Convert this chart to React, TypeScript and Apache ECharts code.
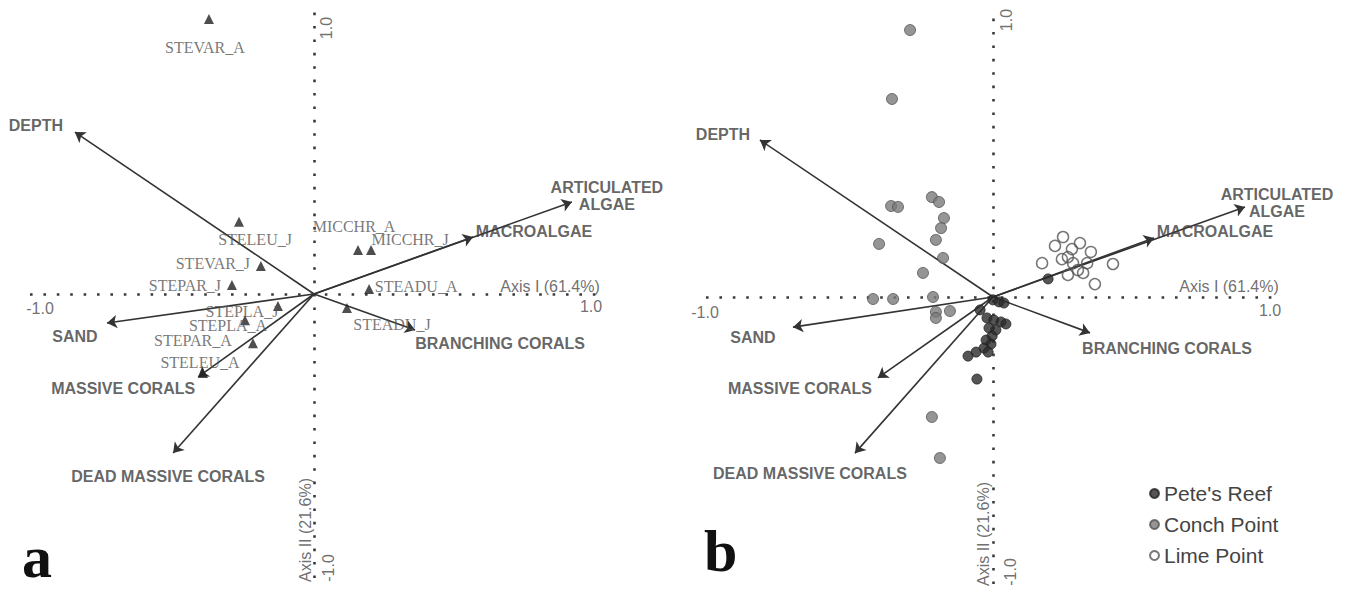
import React, { useEffect, useRef } from "react";
import * as echarts from "echarts";

// ---------- data ----------
const axisRange = [-1, 1];
const tickLabelMin = "-1.0";
const tickLabelMax = "1.0";
const axisTitleI = "Axis I (61.4%)";
const axisTitleII = "Axis II (21.6%)";

const vectorNames = [
  "DEPTH",
  "ARTICULATED\nALGAE",
  "MACROALGAE",
  "SAND",
  "MASSIVE CORALS",
  "DEAD MASSIVE CORALS",
  "BRANCHING CORALS",
];
// panel a
const vectorXA = [-0.842, 0.908, 0.56, -0.729, -0.408, -0.496, 0.356];
const vectorYA = [0.57, 0.324, 0.201, -0.102, -0.292, -0.56, -0.127];
// panel b
const vectorXB = [-0.812, 0.878, 0.561, -0.697, -0.401, -0.481, 0.338];
const vectorYB = [0.547, 0.314, 0.206, -0.105, -0.282, -0.544, -0.125];

const speciesNames = [
  "STEVAR_A", "STELEU_J", "STEVAR_J", "STEPAR_J", "MICCHR_A", "MICCHR_J",
  "STEADU_A", "STEADU_J", "STEPLA_J", "STEPLA_A", "STEPAR_A", "STELEU_A",
];
const speciesX = [-0.37, -0.264, -0.187, -0.289, 0.155, 0.201, 0.194, 0.116, -0.127, -0.243, -0.215, -0.391];
const speciesY = [0.968, 0.254, 0.099, 0.032, 0.155, 0.155, 0.018, -0.049, -0.042, -0.092, -0.173, -0.278];

const siteNames = ["Pete's Reef", "Conch Point", "Lime Point"];
const petesX = [0.192, 0.0, 0.021, 0.038, -0.045, -0.021, 0.003, 0.028, 0.045, -0.014, 0.01, -0.003, -0.024, -0.007, -0.031, -0.017, -0.059, -0.087, -0.056];
const petesY = [0.063, -0.01, -0.017, -0.021, -0.045, -0.073, -0.08, -0.087, -0.094, -0.108, -0.115, -0.136, -0.15, -0.164, -0.178, -0.192, -0.192, -0.206, -0.286];
const conchX = [-0.289, -0.352, -0.355, -0.331, -0.213, -0.188, -0.171, -0.181, -0.199, -0.397, -0.174, -0.244, -0.418, -0.348, -0.209, -0.199, -0.199, -0.15, -0.213, -0.185];
const conchY = [0.93, 0.69, 0.317, 0.314, 0.348, 0.331, 0.275, 0.24, 0.199, 0.185, 0.136, 0.084, -0.007, -0.007, 0.0, -0.052, -0.073, -0.049, -0.418, -0.561];
const limeX = [0.244, 0.216, 0.303, 0.275, 0.341, 0.171, 0.24, 0.261, 0.279, 0.328, 0.418, 0.261, 0.296, 0.314, 0.355];
const limeY = [0.209, 0.178, 0.188, 0.167, 0.157, 0.118, 0.132, 0.139, 0.118, 0.118, 0.115, 0.077, 0.094, 0.084, 0.045];

// ---------- layout (pixel offsets of labels; rotated labels use the rotated frame) ----------
const vectorLabelOffsetA = [[-39, -7], [35, -6], [61, -5], [-32, 14], [-75, 12], [-5, 23], [85, 13]];
const vectorLabelOffsetB = [[-37, -6], [32, -4], [61, -6], [-40, 10], [-78, 11], [-45, 20], [77, 16]];
const speciesLabelOffset = [[-4, 28], [16, 18], [-48, -2], [-47, 1], [-4, -23], [39, -10], [47, -2], [45, 17], [-36, 6], [-17, 5], [-60, -3], [-3, -10]];
const axisLabelOffsetA = { xMin: [10, 14], xMax: [-7, 12], xTitle: [-48, -8], yMax: [-18, 12], yMin: [10, 14], yTitle: [48, -9] };
const axisLabelOffsetB = { xMin: [-1, 15], xMax: [-10, 13], xTitle: [-51, -11], yMax: [-10, 13], yMin: [12, 17], yTitle: [50, -10] };

const SANS = "'Liberation Sans', Arial, sans-serif";
const SERIF = "'Liberation Serif', 'Times New Roman', serif";
const TEXT = "#3d3d3d";

function axisSeries(idx: number, off: any) {
  const [mn, mx] = axisRange;
  const lbl = (value: number[], name: string, offset: number[], rotate = 0) => ({
    value,
    name,
    label: { offset, rotate },
  });
  return [
    {
      type: "lines",
      coordinateSystem: "cartesian2d",
      xAxisIndex: idx,
      yAxisIndex: idx,
      silent: true,
      z: 1,
      symbol: "none",
      lineStyle: { color: "#3a3a3a", width: 2.6, type: [2.6, 10.8], opacity: 1, cap: "butt" },
      data: [{ coords: [[mn, 0], [mx, 0]] }, { coords: [[0, mn], [0, mx]] }],
    },
    {
      type: "scatter",
      xAxisIndex: idx,
      yAxisIndex: idx,
      silent: true,
      symbolSize: 0,
      z: 5,
      label: {
        show: true,
        position: "inside",
        formatter: "{b}",
        fontFamily: SANS,
        fontSize: 16,
        color: "#4a4a4a",
        align: "center",
        verticalAlign: "middle",
      },
      data: [
        lbl([mn, 0], tickLabelMin, off.xMin),
        lbl([mx, 0], tickLabelMax, off.xMax),
        lbl([mx, 0], axisTitleI, off.xTitle),
        lbl([0, mx], tickLabelMax, off.yMax, 90),
        lbl([0, mn], tickLabelMin, off.yMin, 90),
        lbl([0, mn], axisTitleII, off.yTitle, 90),
      ],
    },
  ];
}

function vectorSeries(idx: number, xs: number[], ys: number[], offs: number[][]) {
  return [
    {
      type: "lines",
      coordinateSystem: "cartesian2d",
      xAxisIndex: idx,
      yAxisIndex: idx,
      silent: true,
      z: 3,
      symbol: ["none", "arrow"],
      symbolSize: 10,
      lineStyle: { color: "#333333", width: 1.6, opacity: 1 },
      data: vectorNames.map((n, i) => ({ name: n, coords: [[0, 0], [xs[i], ys[i]]] })),
    },
    {
      type: "scatter",
      xAxisIndex: idx,
      yAxisIndex: idx,
      silent: true,
      symbolSize: 0,
      z: 6,
      label: {
        show: true,
        position: "inside",
        formatter: "{b}",
        fontFamily: SANS,
        fontWeight: "bold",
        fontSize: 16,
        lineHeight: 17,
        color: TEXT,
        align: "center",
        verticalAlign: "middle",
      },
      data: vectorNames.map((n, i) => ({ name: n, value: [xs[i], ys[i]], label: { offset: offs[i] } })),
    },
  ];
}

export default function App() {
  const ref = useRef<HTMLDivElement>(null);
  useEffect(() => {
    if (!ref.current) return;
    const chart = echarts.init(ref.current, null, { renderer: "svg" });
    const gridA = { left: 30, top: 10, width: 568, height: 568 };
    const gridB = { left: 706, top: 10, width: 574, height: 574 };
    const axis = { type: "value", min: axisRange[0], max: axisRange[1], show: false };

    const option: any = {
      animation: false,
      backgroundColor: "#ffffff",
      grid: [gridA, gridB],
      xAxis: [{ ...axis, gridIndex: 0 }, { ...axis, gridIndex: 1 }],
      yAxis: [{ ...axis, gridIndex: 0 }, { ...axis, gridIndex: 1 }],
      legend: {
        data: siteNames,
        orient: "vertical",
        left: 1144,
        top: 478,
        icon: "circle",
        itemWidth: 9,
        itemHeight: 9,
        itemGap: 10,
        selectedMode: false,
        textStyle: { fontFamily: SANS, fontSize: 21, color: "#444" },
      },
      graphic: [
        {
          type: "text",
          left: 22,
          top: 527,
          style: { text: "a", font: `bold 60px ${SERIF}`, fill: "#111" },
        },
        {
          type: "text",
          left: 704,
          top: 521,
          style: { text: "b", font: `bold 60px ${SERIF}`, fill: "#111" },
        },
      ],
      series: [
        // ---- panel a ----
        ...axisSeries(0, axisLabelOffsetA),
        ...vectorSeries(0, vectorXA, vectorYA, vectorLabelOffsetA),
        {
          type: "scatter",
          name: "species",
          xAxisIndex: 0,
          yAxisIndex: 0,
          silent: true,
          symbol: "triangle",
          symbolSize: 10,
          z: 4,
          itemStyle: { color: "#222" },
          label: {
            show: true,
            position: "inside",
            formatter: "{b}",
            fontFamily: SERIF,
            fontSize: 16,
            color: "#555",
            align: "center",
            verticalAlign: "middle",
          },
          data: speciesNames.map((n, i) => ({
            name: n,
            value: [speciesX[i], speciesY[i]],
            label: { offset: speciesLabelOffset[i] },
          })),
        },
        // ---- panel b ----
        ...axisSeries(1, axisLabelOffsetB),
        ...vectorSeries(1, vectorXB, vectorYB, vectorLabelOffsetB),
        {
          type: "scatter",
          name: siteNames[1],
          xAxisIndex: 1,
          yAxisIndex: 1,
          silent: true,
          symbol: "circle",
          symbolSize: 11,
          z: 4,
          itemStyle: { color: "#7b7b7b", borderColor: "#555", borderWidth: 1 },
          data: conchX.map((x, i) => [x, conchY[i]]),
        },
        {
          type: "scatter",
          name: siteNames[2],
          xAxisIndex: 1,
          yAxisIndex: 1,
          silent: true,
          symbol: "circle",
          symbolSize: 11,
          z: 4,
          itemStyle: { color: "rgba(255,255,255,0)", borderColor: "#555", borderWidth: 1.5 },
          data: limeX.map((x, i) => [x, limeY[i]]),
        },
        {
          type: "scatter",
          name: siteNames[0],
          xAxisIndex: 1,
          yAxisIndex: 1,
          silent: true,
          symbol: "circle",
          symbolSize: 10,
          z: 4,
          itemStyle: { color: "#2b2b2b", borderColor: "#222", borderWidth: 1 },
          data: petesX.map((x, i) => [x, petesY[i]]),
        },
      ],
    };
    chart.setOption(option);
    return () => chart.dispose();
  }, []);
  return (
    <div
      ref={ref}
      style={{ position: "absolute", left: 0, top: 0, width: 1346, height: 594, background: "#fff" }}
    />
  );
}
